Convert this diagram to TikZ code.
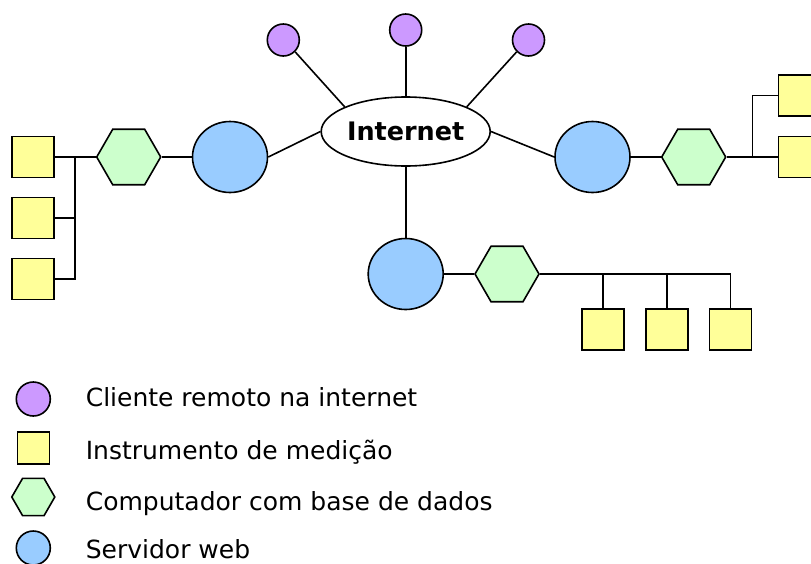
\documentclass[tikz,border=0pt]{standalone}
\usepackage{fontspec}
\setmainfont{DejaVu Sans}
\usetikzlibrary{shapes.geometric}

\definecolor{corCliente}{HTML}{CC99FF}
\definecolor{corServidor}{HTML}{99CCFF}
\definecolor{corComputador}{HTML}{CCFFCC}
\definecolor{corInstrumento}{HTML}{FFFF99}

\tikzset{
  cliente/.style={circle, draw, fill=corCliente, minimum size=32pt, inner sep=0pt},
  servidor/.style={ellipse, draw, fill=corServidor, minimum width=75pt, minimum height=71pt, inner sep=0pt},
  computador/.style={regular polygon, regular polygon sides=6, draw, fill=corComputador, minimum size=64pt, inner sep=0pt},
  instrumento/.style={rectangle, draw, fill=corInstrumento, minimum width=42pt, minimum height=41pt, inner sep=0pt},
  legenda/.style={anchor=base west, inner sep=0pt, font=\fontsize{25}{30}\selectfont}
}

\begin{document}
\begin{tikzpicture}[x=1pt, y=-1pt, line width=1.6pt]
  \clip (0,0) rectangle (811,563);

  % internet and remote clients
  \node[ellipse, draw, minimum width=169pt, minimum height=69pt, inner sep=0pt,
        font=\fontsize{25.5}{30}\selectfont\bfseries] (inet) at (405.7,131.5) {Internet};
  \node[cliente] (cli1) at (283.3,40) {};
  \node[cliente] (cli2) at (405.7,30) {};
  \node[cliente] (cli3) at (528.5,40) {};
  \draw (cli1.-45) -- (inet.158);
  \draw (cli2.south) -- (inet.north);
  \draw (cli3.-135) -- (inet.22);

  % web servers
  \node[servidor] (srvL) at (230,157) {};
  \node[servidor] (srvR) at (592.5,157) {};
  \node[servidor] (srvB) at (405.7,274) {};
  \draw (srvL.east) -- (inet.west);
  \draw (inet.east) -- (srvR.west);
  \draw (inet.south) -- (srvB.north);

  % left branch
  \node[computador] (hexL) at (128.7,157) {};
  \node[instrumento] (insL1) at (33,157) {};
  \node[instrumento] (insL2) at (33,218) {};
  \node[instrumento] (insL3) at (33,279) {};
  \coordinate (busL) at (75,157);
  \draw (hexL) -- (srvL);
  \draw (insL1) -- (hexL);
  \draw (busL) |- (insL3);
  \draw (insL2) -- (insL2 -| busL);

  % right branch
  \node[computador] (hexR) at (693.7,157) {};
  \node[instrumento] (insR1) at (799.5,95.5) {};
  \node[instrumento] (insR2) at (799.5,157) {};
  \coordinate (busR) at (752.3,157);
  \draw (srvR) -- (hexR);
  \draw (hexR) -- (insR2);
  \draw (busR) |- (insR1);

  % bottom branch
  \node[computador] (hexB) at (507,274) {};
  \node[instrumento] (insB1) at (603,329.7) {};
  \node[instrumento] (insB2) at (667,329.7) {};
  \node[instrumento] (insB3) at (730.5,329.7) {};
  \coordinate (busB) at (730.5,274);
  \draw (srvB) -- (hexB);
  \draw (hexB) -- (busB);
  \foreach \ins in {insB1,insB2,insB3}
    \draw (\ins) -- (\ins |- busB);

  % legend
  \node[cliente, minimum size=34pt] (legCli) at (33.3,399) {};
  \node[instrumento, minimum width=32pt, minimum height=32pt] (legIns) at (33.3,448) {};
  \node[computador, minimum size=43pt] (legCom) at (33.3,497) {};
  \node[servidor, minimum width=34pt, minimum height=34pt] (legSrv) at (33.3,548) {};
  \node[legenda] (txtCli) at (85,406.7) {Cliente remoto na internet};
  \node[legenda] (txtIns) at (85,459) {Instrumento de medição};
  \node[legenda] (txtCom) at (85,510.5) {Computador com base de dados};
  \node[legenda] (txtSrv) at (85,558.5) {Servidor web};
\end{tikzpicture}
\end{document}
